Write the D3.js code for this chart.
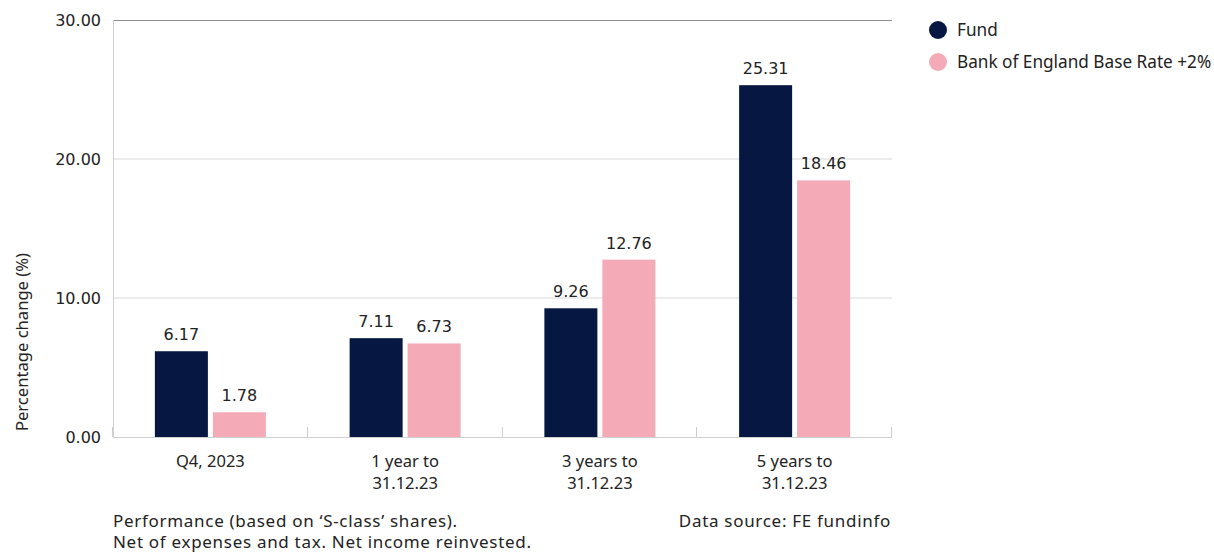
<!DOCTYPE html>
<html>
<head>
<meta charset="utf-8">
<script src="https://cdn.jsdelivr.net/npm/d3@7"></script>
<style>
  body { margin: 0; background: #fff; }
  svg { display: block; }
  .lbl { font-family: "Noto Sans", sans-serif; fill: #222; }
  .num { font-family: "DejaVu Sans", sans-serif; fill: #222; }
  .foot { letter-spacing: 0.7px; }
</style>
</head>
<body>
<div id="chart"></div>
<script>
// Chart data
var categories = [["Q4, 2023"], ["1 year to", "31.12.23"], ["3 years to", "31.12.23"], ["5 years to", "31.12.23"]];
var seriesNames = ["Fund", "Bank of England Base Rate +2%"];
var fundValues = [6.17, 7.11, 9.26, 25.31];
var bankValues = [1.78, 6.73, 12.76, 18.46];
var yTicks = [0, 10, 20, 30];
var colors = ["#061741", "#f5aab7"];

var svgWidth = 1214;
var svgHeight = 553;

var margin = { top: 20, right: 322, bottom: 116, left: 113 };
var width = svgWidth - margin.left - margin.right;
var height = svgHeight - margin.top - margin.bottom;

var svg = d3.select("#chart").append("svg")
    .attr("width", svgWidth)
    .attr("height", svgHeight);

var chartGroup = svg.append("g")
    .attr("transform", `translate(${margin.left}, ${margin.top})`);

// build rows
var rows = categories.map(function (c, i) {
    return { key: c.join(" "), lines: c, values: [fundValues[i], bankValues[i]] };
});

// scales
var x0 = d3.scaleBand()
    .domain(rows.map(d => d.key))
    .range([0, width])
    .padding(0);

var bw = x0.bandwidth();
var x1 = d3.scaleBand()
    .domain(seriesNames)
    .range([bw / 2 - 55.5, bw / 2 + 55.5])
    .paddingInner(0.086)
    .paddingOuter(0);

var y = d3.scaleLinear()
    .domain([0, 30])
    .range([height, 0]);

// gridlines
chartGroup.append("g")
    .selectAll("line")
    .data(yTicks.filter(t => t > 0 && t < 30))
    .enter()
    .append("line")
    .attr("x1", 0)
    .attr("x2", width)
    .attr("y1", d => y(d))
    .attr("y2", d => y(d))
    .attr("stroke", "#d9d9d9")
    .attr("stroke-width", 1);

// top line
chartGroup.append("line")
    .attr("x1", 0).attr("x2", width)
    .attr("y1", y(30) + 0.5).attr("y2", y(30) + 0.5)
    .attr("stroke", "#8c8c8c");

// left axis line
chartGroup.append("line")
    .attr("x1", 0.5).attr("x2", 0.5)
    .attr("y1", y(30)).attr("y2", y(0))
    .attr("stroke", "#cfcfcf");

// y tick labels
chartGroup.append("g")
    .selectAll("text")
    .data(yTicks)
    .enter()
    .append("text")
    .classed("num", true)
    .attr("x", -12)
    .attr("y", d => y(d))
    .attr("dy", "0.35em")
    .attr("text-anchor", "end")
    .attr("font-size", "16px")
    .text(d => d3.format(".2f")(d));

// bars
var groups = chartGroup.selectAll(".grp")
    .data(rows)
    .enter()
    .append("g")
    .attr("class", "grp")
    .attr("transform", d => `translate(${x0(d.key)}, 0)`);

groups.selectAll("rect")
    .data(d => d.values.map((v, i) => ({ name: seriesNames[i], value: v, i: i })))
    .enter()
    .append("rect")
    .attr("x", d => x1(d.name))
    .attr("width", x1.bandwidth())
    .attr("y", d => y(d.value))
    .attr("height", d => y(0) - y(d.value))
    .attr("fill", d => colors[d.i]);

groups.selectAll(".val")
    .data(d => d.values.map((v, i) => ({ name: seriesNames[i], value: v })))
    .enter()
    .append("text")
    .classed("num", true)
    .attr("x", d => x1(d.name) + x1.bandwidth() / 2)
    .attr("y", d => y(d.value) - 11)
    .attr("text-anchor", "middle")
    .attr("font-size", "16px")
    .text(d => d3.format(".2f")(d.value));

// bottom axis
chartGroup.append("line")
    .attr("x1", 0).attr("x2", width)
    .attr("y1", height + 0.5).attr("y2", height + 0.5)
    .attr("stroke", "#cfcfcf");

var bounds = rows.map(d => x0(d.key) + bw).concat([0]);
chartGroup.append("g")
    .selectAll("line")
    .data(bounds)
    .enter()
    .append("line")
    .attr("x1", d => Math.round(d) - 0.5)
    .attr("x2", d => Math.round(d) - 0.5)
    .attr("y1", height - 10)
    .attr("y2", height)
    .attr("stroke", "#cfcfcf");

// category labels
var catText = chartGroup.append("g")
    .selectAll("text")
    .data(rows)
    .enter()
    .append("text")
    .classed("lbl", true)
    .attr("x", d => x0(d.key) + bw / 2)
    .attr("y", height + 30)
    .attr("text-anchor", "middle")
    .attr("font-size", "16.5px");

catText.selectAll("tspan")
    .data(d => d.lines.map(l => ({ line: l, x: x0(d.key) + bw / 2 })))
    .enter()
    .append("tspan")
    .attr("x", d => d.x)
    .attr("dy", (d, i) => i === 0 ? 0 : 22)
    .text(d => d.line);

// y axis title
svg.append("text")
    .classed("lbl", true)
    .attr("transform", "translate(22, 342) rotate(-90)")
    .attr("dy", "0.35em")
    .attr("text-anchor", "middle")
    .attr("font-size", "16.6px")
    .text("Percentage change (%)");

// legend
var legend = svg.append("g")
    .attr("transform", "translate(938, 30)");

var items = legend.selectAll("g")
    .data(seriesNames)
    .enter()
    .append("g")
    .attr("transform", (d, i) => `translate(0, ${i * 32})`);

items.append("circle")
    .attr("r", 9)
    .attr("fill", (d, i) => colors[i]);

items.append("text")
    .classed("lbl", true)
    .attr("x", 19)
    .attr("dy", "0.35em")
    .attr("font-size", "17.2px")
    .text(d => d);

// footnotes
svg.append("text")
    .classed("lbl foot", true)
    .attr("x", 113)
    .attr("y", 527)
    .attr("font-size", "17px")
    .text("Performance (based on ‘S-class’ shares).");

svg.append("text")
    .classed("lbl foot", true)
    .attr("x", 113)
    .attr("y", 548)
    .attr("font-size", "17px")
    .text("Net of expenses and tax. Net income reinvested.");

svg.append("text")
    .classed("lbl foot", true)
    .attr("x", 891)
    .attr("y", 527)
    .attr("text-anchor", "end")
    .attr("font-size", "17px")
    .text("Data source: FE fundinfo");
</script>
</body>
</html>
